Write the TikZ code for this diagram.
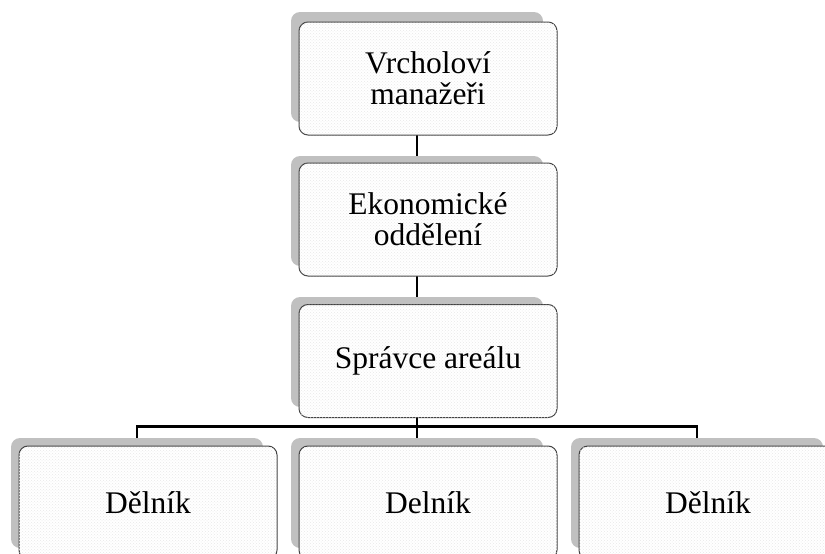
\documentclass[tikz,border=0pt]{standalone}
\usepackage{fontspec}
\setmainfont{Liberation Serif}
\usetikzlibrary{backgrounds,patterns}
\definecolor{shadowgray}{RGB}{192,192,192}
\begin{document}
\begin{tikzpicture}[x=1pt,y=-1pt,
  shadowbox/.style={fill=shadowgray,rounded corners=9pt,minimum width=252pt,minimum height=110pt,inner sep=0pt},
  orgbox/.style={draw=black!75,line width=1pt,fill=white,rounded corners=9pt,minimum width=258pt,minimum height=113pt,
    inner sep=0pt,align=center,font=\fontsize{31.5}{31}\selectfont,
    postaction={pattern=crosshatch dots,pattern color=black!9}},
  link/.style={line width=2.4pt}]
\useasboundingbox (0,0) rectangle (825,554);
\clip (0,0) rectangle (825,554);
\node[shadowbox] (s1) at (417,67) {};
\node[shadowbox] (s2) at (417,211) {};
\node[shadowbox] (s3) at (417,352) {};
\node[shadowbox] (s4) at (137,493) {};
\node[shadowbox] (s5) at (417,493) {};
\node[shadowbox] (s6) at (697,493) {};
\node[orgbox] (top) at (428,78.5) {Vrcholoví\\manažeři};
\node[orgbox] (econ) at (428,219.5) {Ekonomické\\oddělení};
\node[orgbox] (admin) at (428,361) {Správce areálu};
\node[orgbox] (w1) at (148,502.5) {Dělník};
\node[orgbox] (w2) at (428,502.5) {Delník};
\node[orgbox] (w3) at (708,502.5) {Dělník};
\coordinate (bar) at (417,426.5);
\begin{scope}[on background layer]
\draw[link] (s1.south) -- (s2.north);
\draw[link] (s2.south) -- (s3.north);
\draw[link] (s3.south) -- (s5.north);
\draw[link] (s4.north) |- (bar) -| (s6.north);
\end{scope}
\end{tikzpicture}
\end{document}
